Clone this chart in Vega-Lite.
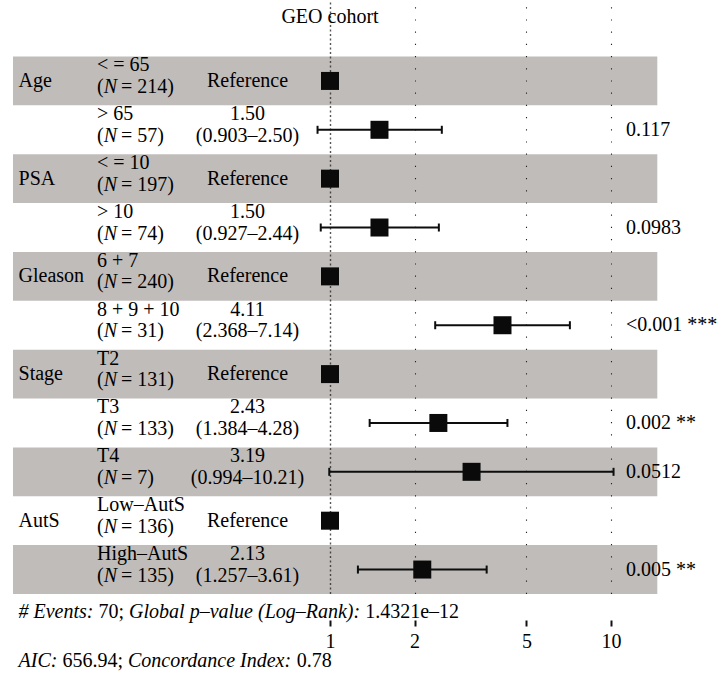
{
  "$schema": "https://vega.github.io/schema/vega-lite/v6.json",
  "width": 726,
  "height": 590,
  "autosize": {"type": "none"},
  "padding": {"left": 0, "top": 30, "right": 0, "bottom": 56},
  "background": "white",
  "title": {
    "text": "GEO cohort",
    "anchor": "middle",
    "dx": -33,
    "dy": 20,
    "offset": 7,
    "baseline": "alphabetic",
    "font": "Liberation Serif",
    "fontSize": 20,
    "fontWeight": "normal",
    "color": "#000000"
  },
  "config": {
    "font": "Liberation Serif",
    "view": {"stroke": null},
    "mark": {"font": "Liberation Serif"},
    "text": {"font": "Liberation Serif", "fontSize": 20, "color": "#000000"}
  },
  "datasets": {
    "rows": [
      {"variable": "Age", "level": "< = 65", "n": 214, "hr": 1, "lo": null, "hi": null, "p": null},
      {"variable": "Age", "level": "> 65", "n": 57, "hr": 1.50, "lo": 0.903, "hi": 2.50, "p": "0.117"},
      {"variable": "PSA", "level": "< = 10", "n": 197, "hr": 1, "lo": null, "hi": null, "p": null},
      {"variable": "PSA", "level": "> 10", "n": 74, "hr": 1.50, "lo": 0.927, "hi": 2.44, "p": "0.0983"},
      {"variable": "Gleason", "level": "6 + 7", "n": 240, "hr": 1, "lo": null, "hi": null, "p": null},
      {"variable": "Gleason", "level": "8 + 9 + 10", "n": 31, "hr": 4.11, "lo": 2.368, "hi": 7.14, "p": "<0.001 ***"},
      {"variable": "Stage", "level": "T2", "n": 131, "hr": 1, "lo": null, "hi": null, "p": null},
      {"variable": "Stage", "level": "T3", "n": 133, "hr": 2.43, "lo": 1.384, "hi": 4.28, "p": "0.002 **"},
      {"variable": "Stage", "level": "T4", "n": 7, "hr": 3.19, "lo": 0.994, "hi": 10.21, "p": "0.0512"},
      {"variable": "AutS", "level": "Low–AutS", "n": 136, "hr": 1, "lo": null, "hi": null, "p": null},
      {"variable": "AutS", "level": "High–AutS", "n": 135, "hr": 2.13, "lo": 1.257, "hi": 3.61, "p": "0.005 **"}
    ],
    "footer": [
      {"line": "events", "part": 1, "text": "# Events:"},
      {"line": "events", "part": 2, "text": "70;"},
      {"line": "events", "part": 3, "text": "Global p–value (Log–Rank):"},
      {"line": "events", "part": 4, "text": "1.4321e–12"},
      {"line": "aic", "part": 1, "text": "AIC:"},
      {"line": "aic", "part": 2, "text": "656.94;"},
      {"line": "aic", "part": 3, "text": "Concordance Index:"},
      {"line": "aic", "part": 4, "text": "0.78"}
    ]
  },
  "layer": [
    {
      "data": {"name": "rows"},
      "transform": [
        {"window": [{"op": "row_number", "as": "idx"}]},
        {"filter": "datum.idx % 2 === 1"}
      ],
      "mark": {"type": "rect", "fill": "#2d201c", "fillOpacity": 0.3},
      "encoding": {
        "x": {"datum": 0.07446, "type": "quantitative", "title": null,
              "scale": {"type": "log", "domain": [0.06693, 25.66], "nice": false, "zero": false},
              "axis": {
                "values": [1, 2, 5, 10],
                "format": "d",
                "title": null,
                "domain": false,
                "ticks": true,
                "tickSize": 6,
                "tickWidth": 2,
                "tickColor": "#111111",
                "labelFont": "Liberation Serif",
                "labelFontSize": 20,
                "labelColor": "#000000",
                "labelPadding": 5,
                "labelFlush": false,
                "grid": true,
                "gridDash": {"condition": {"test": "datum.value === 1", "value": [2, 2.5]}, "value": [1.2, 11]},
                "gridColor": {"condition": {"test": "datum.value === 1", "value": "#555555"}, "value": "#222222"},
                "gridWidth": {"condition": {"test": "datum.value === 1", "value": 1.4}, "value": 1.1}
              }},
        "x2": {"datum": 14.615},
        "y": {"field": "level", "type": "nominal", "sort": null, "title": null, "axis": null,
              "scale": {"domain": ["< = 65", "> 65", "< = 10", "> 10", "6 + 7", "8 + 9 + 10", "T2", "T3", "T4", "Low–AutS", "High–AutS", "events", "aic"], "range": [26.5, 661.7], "paddingInner": 0, "paddingOuter": 0}}
      }
    },
    {
      "data": {"name": "rows"},
      "transform": [{"filter": "isValid(datum.lo)"}],
      "mark": {"type": "rule", "strokeWidth": 2, "color": "#0d0d0d"},
      "encoding": {
        "x": {"field": "lo", "type": "quantitative", "title": null},
        "x2": {"field": "hi"},
        "y": {"field": "level", "type": "nominal", "sort": null, "title": null, "axis": null}
      }
    },
    {
      "data": {"name": "rows"},
      "transform": [{"filter": "isValid(datum.lo)"}],
      "mark": {"type": "tick", "orient": "vertical", "size": 8, "thickness": 2, "color": "#0d0d0d", "opacity": 1},
      "encoding": {
        "x": {"field": "lo", "type": "quantitative", "title": null},
        "y": {"field": "level", "type": "nominal", "sort": null, "title": null, "axis": null}
      }
    },
    {
      "data": {"name": "rows"},
      "transform": [{"filter": "isValid(datum.hi)"}],
      "mark": {"type": "tick", "orient": "vertical", "size": 8, "thickness": 2, "color": "#0d0d0d", "opacity": 1},
      "encoding": {
        "x": {"field": "hi", "type": "quantitative", "title": null},
        "y": {"field": "level", "type": "nominal", "sort": null, "title": null, "axis": null}
      }
    },
    {
      "data": {"name": "rows"},
      "mark": {"type": "point", "shape": "square", "filled": true, "size": 324, "color": "#0a0a0a", "opacity": 1, "strokeWidth": 0},
      "encoding": {
        "x": {"field": "hr", "type": "quantitative", "title": null},
        "y": {"field": "level", "type": "nominal", "sort": null, "title": null, "axis": null}
      }
    },
    {
      "data": {"name": "rows"},
      "transform": [
        {"window": [{"op": "row_number", "as": "k"}], "groupby": ["variable"]},
        {"filter": "datum.k === 1"}
      ],
      "mark": {"type": "text", "align": "left", "baseline": "middle", "font": "Liberation Serif", "fontSize": 20},
      "encoding": {
        "x": {"datum": 0.0779, "type": "quantitative", "title": null},
        "y": {"field": "level", "type": "nominal", "sort": null, "title": null, "axis": null},
        "text": {"field": "variable"}
      }
    },
    {
      "data": {"name": "rows"},
      "mark": {"type": "text", "align": "left", "baseline": "alphabetic", "dy": -9.5, "font": "Liberation Serif", "fontSize": 20},
      "encoding": {
        "x": {"datum": 0.14822, "type": "quantitative", "title": null},
        "y": {"field": "level", "type": "nominal", "sort": null, "title": null, "axis": null},
        "text": {"field": "level"}
      }
    },
    {
      "data": {"name": "rows"},
      "mark": {"type": "text", "align": "left", "baseline": "alphabetic", "dy": 12, "font": "Liberation Serif", "fontSize": 20},
      "encoding": {
        "x": {"datum": 0.14822, "type": "quantitative", "title": null},
        "y": {"field": "level", "type": "nominal", "sort": null, "title": null, "axis": null},
        "text": {"value": "("}
      }
    },
    {
      "data": {"name": "rows"},
      "mark": {"type": "text", "align": "left", "baseline": "alphabetic", "dy": 12, "dx": 6.7, "fontStyle": "italic", "font": "Liberation Serif", "fontSize": 20},
      "encoding": {
        "x": {"datum": 0.14822, "type": "quantitative", "title": null},
        "y": {"field": "level", "type": "nominal", "sort": null, "title": null, "axis": null},
        "text": {"value": "N"}
      }
    },
    {
      "data": {"name": "rows"},
      "transform": [{"calculate": "'= ' + datum.n + ')'", "as": "n_text"}],
      "mark": {"type": "text", "align": "left", "baseline": "alphabetic", "dy": 12, "dx": 24, "font": "Liberation Serif", "fontSize": 20},
      "encoding": {
        "x": {"datum": 0.14822, "type": "quantitative", "title": null},
        "y": {"field": "level", "type": "nominal", "sort": null, "title": null, "axis": null},
        "text": {"field": "n_text"}
      }
    },
    {
      "data": {"name": "rows"},
      "transform": [{"filter": "!isValid(datum.lo)"}],
      "mark": {"type": "text", "align": "center", "baseline": "middle", "font": "Liberation Serif", "fontSize": 20},
      "encoding": {
        "x": {"datum": 0.50861, "type": "quantitative", "title": null},
        "y": {"field": "level", "type": "nominal", "sort": null, "title": null, "axis": null},
        "text": {"value": "Reference"}
      }
    },
    {
      "data": {"name": "rows"},
      "transform": [{"filter": "isValid(datum.lo)"}],
      "mark": {"type": "text", "align": "center", "baseline": "alphabetic", "dy": -9.5, "font": "Liberation Serif", "fontSize": 20},
      "encoding": {
        "x": {"datum": 0.50861, "type": "quantitative", "title": null},
        "y": {"field": "level", "type": "nominal", "sort": null, "title": null, "axis": null},
        "text": {"field": "hr", "format": ".2f"}
      }
    },
    {
      "data": {"name": "rows"},
      "transform": [
        {"filter": "isValid(datum.lo)"},
        {"calculate": "'(' + format(datum.lo, '.3f') + '–' + format(datum.hi, '.2f') + ')'", "as": "ci_text"}
      ],
      "mark": {"type": "text", "align": "center", "baseline": "alphabetic", "dy": 12, "font": "Liberation Serif", "fontSize": 20},
      "encoding": {
        "x": {"datum": 0.50861, "type": "quantitative", "title": null},
        "y": {"field": "level", "type": "nominal", "sort": null, "title": null, "axis": null},
        "text": {"field": "ci_text"}
      }
    },
    {
      "data": {"name": "rows"},
      "transform": [{"filter": "isValid(datum.p)"}],
      "mark": {"type": "text", "align": "left", "baseline": "middle", "font": "Liberation Serif", "fontSize": 20},
      "encoding": {
        "x": {"datum": 11.31, "type": "quantitative", "title": null},
        "y": {"field": "level", "type": "nominal", "sort": null, "title": null, "axis": null},
        "text": {"field": "p"}
      }
    },
    {
      "data": {"name": "footer"},
      "transform": [{"filter": "datum.part === 1"}],
      "mark": {"type": "text", "align": "left", "baseline": "alphabetic", "fontStyle": "italic", "font": "Liberation Serif", "fontSize": 20},
      "encoding": {
        "x": {"datum": 0.0779, "type": "quantitative", "title": null},
        "y": {"field": "line", "type": "nominal", "sort": null, "title": null, "axis": null},
        "text": {"field": "text"}
      }
    },
    {
      "data": {"name": "footer"},
      "transform": [{"filter": "datum.part === 2 && datum.line === 'events'"}],
      "mark": {"type": "text", "align": "left", "baseline": "alphabetic", "dx": 80, "font": "Liberation Serif", "fontSize": 20},
      "encoding": {
        "x": {"datum": 0.0779, "type": "quantitative", "title": null},
        "y": {"field": "line", "type": "nominal", "sort": null, "title": null, "axis": null},
        "text": {"field": "text"}
      }
    },
    {
      "data": {"name": "footer"},
      "transform": [{"filter": "datum.part === 3 && datum.line === 'events'"}],
      "mark": {"type": "text", "align": "left", "baseline": "alphabetic", "dx": 110.6, "fontStyle": "italic", "font": "Liberation Serif", "fontSize": 20},
      "encoding": {
        "x": {"datum": 0.0779, "type": "quantitative", "title": null},
        "y": {"field": "line", "type": "nominal", "sort": null, "title": null, "axis": null},
        "text": {"field": "text"}
      }
    },
    {
      "data": {"name": "footer"},
      "transform": [{"filter": "datum.part === 4 && datum.line === 'events'"}],
      "mark": {"type": "text", "align": "left", "baseline": "alphabetic", "dx": 346.7, "font": "Liberation Serif", "fontSize": 20},
      "encoding": {
        "x": {"datum": 0.0779, "type": "quantitative", "title": null},
        "y": {"field": "line", "type": "nominal", "sort": null, "title": null, "axis": null},
        "text": {"field": "text"}
      }
    },
    {
      "data": {"name": "footer"},
      "transform": [{"filter": "datum.part === 2 && datum.line === 'aic'"}],
      "mark": {"type": "text", "align": "left", "baseline": "alphabetic", "dx": 43.9, "font": "Liberation Serif", "fontSize": 20},
      "encoding": {
        "x": {"datum": 0.0779, "type": "quantitative", "title": null},
        "y": {"field": "line", "type": "nominal", "sort": null, "title": null, "axis": null},
        "text": {"field": "text"}
      }
    },
    {
      "data": {"name": "footer"},
      "transform": [{"filter": "datum.part === 3 && datum.line === 'aic'"}],
      "mark": {"type": "text", "align": "left", "baseline": "alphabetic", "dx": 109.5, "fontStyle": "italic", "font": "Liberation Serif", "fontSize": 20},
      "encoding": {
        "x": {"datum": 0.0779, "type": "quantitative", "title": null},
        "y": {"field": "line", "type": "nominal", "sort": null, "title": null, "axis": null},
        "text": {"field": "text"}
      }
    },
    {
      "data": {"name": "footer"},
      "transform": [{"filter": "datum.part === 4 && datum.line === 'aic'"}],
      "mark": {"type": "text", "align": "left", "baseline": "alphabetic", "dx": 278.3, "font": "Liberation Serif", "fontSize": 20},
      "encoding": {
        "x": {"datum": 0.0779, "type": "quantitative", "title": null},
        "y": {"field": "line", "type": "nominal", "sort": null, "title": null, "axis": null},
        "text": {"field": "text"}
      }
    }
  ]
}
